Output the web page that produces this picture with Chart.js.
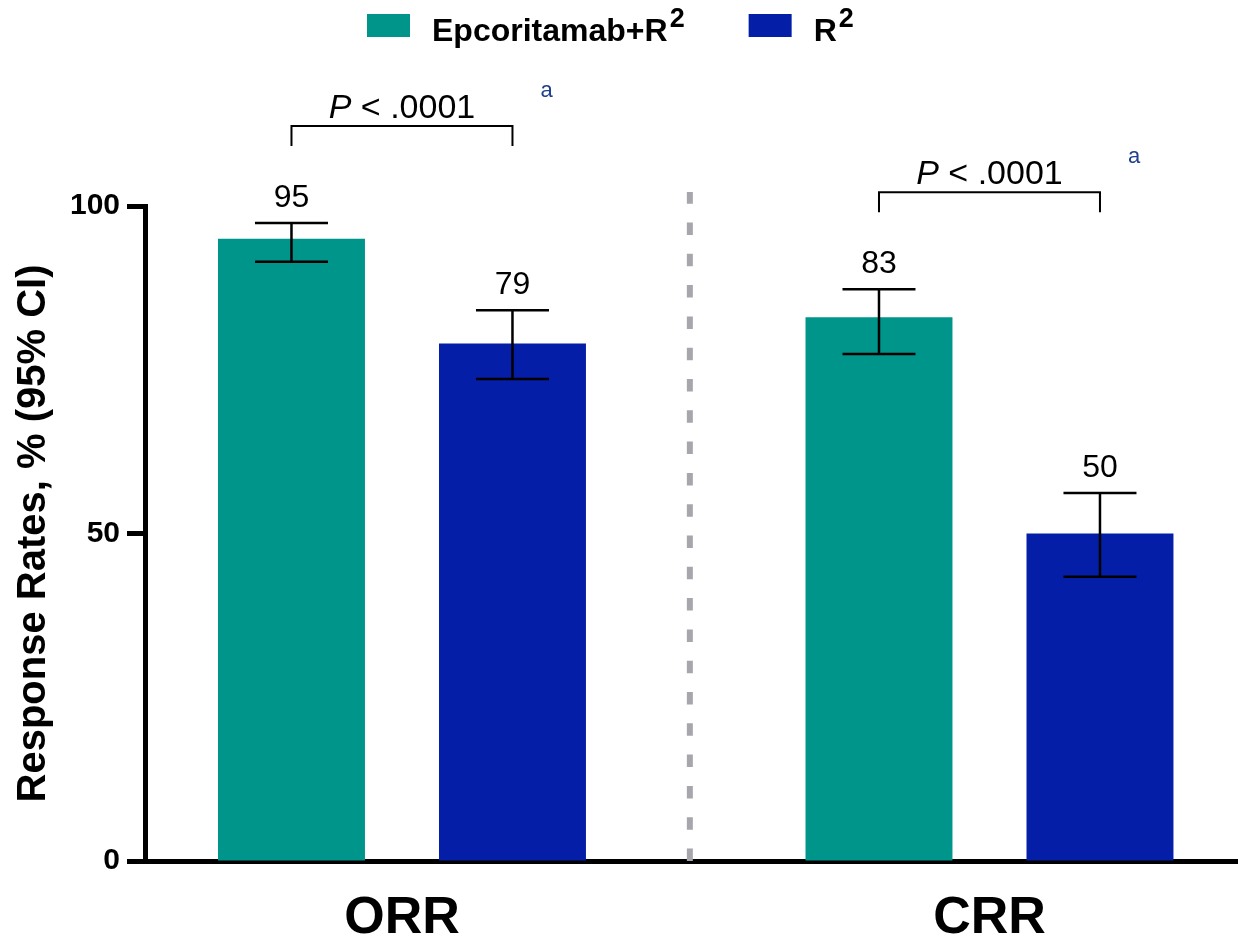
<!DOCTYPE html>
<html>
<head>
<meta charset="utf-8">
<script src="https://cdn.jsdelivr.net/npm/chart.js@4.4.1/dist/chart.umd.min.js"></script>
<style>
  html, body { margin: 0; padding: 0; background: #fff; }
</style>
</head>
<body>
<canvas id="myChart" width="1238" height="938"></canvas>
<script>
const categories = ['ORR', 'CRR']
const seriesNames = ['Epcoritamab+R²', 'R²']
const epcorValues = [95, 83]
const epcorLow = [91.5, 77.4]
const epcorHigh = [97.4, 87.3]
const r2Values = [79, 50]
const r2Low = [73.6, 43.4]
const r2High = [84.1, 56.2]
const pLabels = ['P < .0001', 'P < .0001']
const yTicks = [0, 50, 100]

const FONT = "'Liberation Sans', Arial, sans-serif"
const teal = '#00958A'
const blue = '#041EA8'

// draws a label where "²" becomes a raised smaller 2
function drawSupText(ctx, text, x, y, size) {
  const parts = text.split('²')
  ctx.font = `bold ${size}px ${FONT}`
  ctx.fillText(parts[0], x, y)
  let w = ctx.measureText(parts[0]).width
  if (parts.length > 1) {
    ctx.font = `bold 27px ${FONT}`
    ctx.fillText('2', x + w + 2, y - 14)
    w += 2 + ctx.measureText('2').width
  }
  return w
}

const overlay = {
  id: 'overlay',
  beforeDatasetsDraw(chart) {
    const { ctx, chartArea, scales: { x } } = chart
    const px = x.getPixelForValue(0.49)
    ctx.save()
    ctx.strokeStyle = '#A6A6AC'
    ctx.lineWidth = 6
    ctx.setLineDash([12.5, 18.8])
    ctx.beginPath()
    ctx.moveTo(px, chartArea.bottom)
    ctx.lineTo(px, 192)
    ctx.stroke()
    ctx.restore()
  },
  afterDatasetsDraw(chart) {
    const { ctx, scales: { y } } = chart
    const vals = [epcorValues, r2Values]
    const lows = [epcorLow, r2Low]
    const highs = [epcorHigh, r2High]
    ctx.save()
    ctx.strokeStyle = '#000'
    ctx.fillStyle = '#000'
    ctx.lineWidth = 2.5
    chart.data.datasets.forEach((ds, d) => {
      chart.getDatasetMeta(d).data.forEach((bar, i) => {
        const top = y.getPixelForValue(highs[d][i])
        const bot = y.getPixelForValue(lows[d][i])
        ctx.beginPath()
        ctx.moveTo(bar.x, top); ctx.lineTo(bar.x, bot)
        ctx.moveTo(bar.x - 36.5, top); ctx.lineTo(bar.x + 36.5, top)
        ctx.moveTo(bar.x - 36.5, bot); ctx.lineTo(bar.x + 36.5, bot)
        ctx.stroke()
        ctx.font = `32px ${FONT}`
        ctx.textAlign = 'center'
        ctx.textBaseline = 'alphabetic'
        ctx.fillText(String(vals[d][i]), bar.x, top - 16)
      })
    })

    // significance brackets
    categories.forEach((c, i) => {
      const b0 = chart.getDatasetMeta(0).data[i]
      const b1 = chart.getDatasetMeta(1).data[i]
      const topCap = Math.min(y.getPixelForValue(epcorHigh[i]), y.getPixelForValue(r2High[i]))
      const by = topCap - 97
      ctx.lineWidth = 2
      ctx.beginPath()
      ctx.moveTo(b0.x, by + 20); ctx.lineTo(b0.x, by); ctx.lineTo(b1.x, by); ctx.lineTo(b1.x, by + 20)
      ctx.stroke()

      const label = pLabels[i]
      const first = label.slice(0, 1)
      const rest = label.slice(1)
      ctx.textAlign = 'left'
      ctx.font = `italic 34px ${FONT}`
      const w1 = ctx.measureText(first).width
      ctx.font = `34px ${FONT}`
      const w2 = ctx.measureText(rest).width
      const cx = (b0.x + b1.x) / 2
      const sx = cx - (w1 + w2) / 2
      ctx.font = `italic 34px ${FONT}`
      ctx.fillText(first, sx, by - 8)
      ctx.font = `34px ${FONT}`
      ctx.fillText(rest, sx + w1, by - 8)

      ctx.fillStyle = '#1F3E8F'
      ctx.font = `22px ${FONT}`
      ctx.fillText('a', b1.x + 28, by - 29)
      ctx.fillStyle = '#000'
    })

    // legend
    ctx.textAlign = 'left'
    let lx = 367
    chart.data.datasets.forEach((ds, d) => {
      ctx.fillStyle = ds.backgroundColor
      ctx.fillRect(lx, 14, 43, 23)
      ctx.fillStyle = '#000'
      const w = drawSupText(ctx, ds.label, lx + 65, 41, 32)
      lx += 65 + w + 64
    })
    ctx.restore()
  }
}

const ctx = document.getElementById('myChart')
new Chart(ctx, {
  type: 'bar',
  data: {
    datasets: [
      {
        label: seriesNames[0],
        data: categories.map((c, i) => ({ x: i, y: epcorValues[i] })),
        backgroundColor: teal
      },
      {
        label: seriesNames[1],
        data: categories.map((c, i) => ({ x: i, y: r2Values[i] })),
        backgroundColor: blue
      }
    ]
  },
  options: {
    responsive: false,
    animation: false,
    categoryPercentage: 0.7523,
    barPercentage: 0.665,
    layout: { padding: { top: 206, left: 0, right: 0, bottom: 0 } },
    plugins: {
      legend: { display: false },
      tooltip: { enabled: false }
    },
    scales: {
      x: {
        type: 'linear',
        min: -0.4374,
        max: 1.423,
        offset: false,
        z: 1,
        afterBuildTicks: scale => { scale.ticks = categories.map((c, i) => ({ value: i })) },
        afterFit: scale => { scale.height = 77 },
        grid: { display: false, drawTicks: false, offset: false },
        border: { display: true, color: '#000', width: 5 },
        ticks: {
          padding: 26,
          color: '#000',
          font: { family: FONT, size: 52, weight: 'bold' },
          callback: v => categories[v]
        }
      },
      y: {
        min: 0,
        max: 100,
        z: 1,
        afterBuildTicks: scale => { scale.ticks = yTicks.map(v => ({ value: v })) },
        afterFit: scale => { scale.width = 145 },
        grid: { drawOnChartArea: false, drawTicks: true, tickLength: 18, tickWidth: 5, tickColor: '#000' },
        border: { display: true, color: '#000', width: 5 },
        ticks: {
          padding: 7,
          color: '#000',
          font: { family: FONT, size: 30, weight: 'bold' }
        },
        title: {
          display: true,
          text: 'Response Rates, % (95% CI)',
          color: '#000',
          padding: { top: 10, bottom: 0 },
          font: { family: FONT, size: 40, weight: 'bold' }
        }
      }
    }
  },
  plugins: [overlay]
})
</script>
</body>
</html>
